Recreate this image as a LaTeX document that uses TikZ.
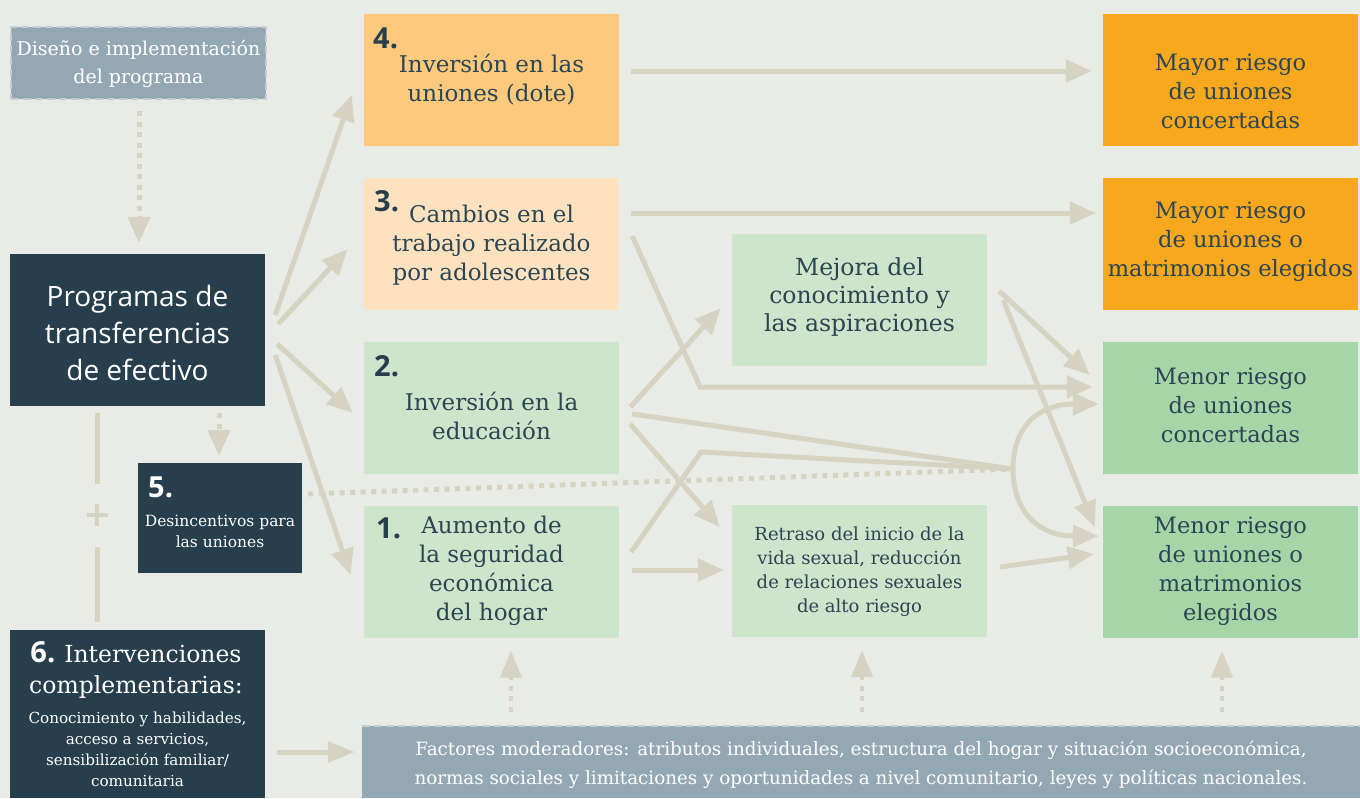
\documentclass[tikz,border=0pt]{standalone}
\usepackage{fontspec}
\setmainfont{DejaVu Serif}
\newfontfamily\sansf{Open Sans}
\usetikzlibrary{arrows.meta,calc}
\definecolor{bg}{HTML}{E9ECE6}
\definecolor{ac}{HTML}{D6D3C2}
\definecolor{dk}{HTML}{273E4C}
\definecolor{gb}{HTML}{94A8B3}
\definecolor{gbl}{HTML}{C3CDD2}
\definecolor{cfour}{HTML}{FDC97D}
\definecolor{cthree}{HTML}{FEE2BF}
\definecolor{lg}{HTML}{CCE5CB}
\definecolor{og}{HTML}{F8A81D}
\definecolor{mg}{HTML}{A6D5A7}
\definecolor{tc}{HTML}{2B4552}
\newcommand\fsz[2]{\fontsize{#1}{#2}\selectfont}
\tikzset{
  box/.style={inner sep=0pt, minimum width=255pt, minimum height=132pt},
  txt/.style={align=center, inner sep=0pt, text=tc},
  wtxt/.style={align=center, inner sep=0pt, text=white},
  num/.style={inner sep=0pt, text=dk, font=\sansf\bfseries\fsz{29}{29}},
  ln/.style={draw=ac, line width=5pt},
  arr/.style={ln, -{Triangle[length=26pt,width=22pt]}},
  dotl/.style={dash pattern=on 5pt off 5.5pt},
}
\begin{document}
\begin{tikzpicture}[x=1pt,y=-1pt]
\useasboundingbox[fill=bg] (0,0) rectangle (1360,798);

% boxes
\node[box, minimum height=72pt, fill=gb, draw=gbl, line width=2pt, dash pattern=on 8pt off 4pt] (dis) at (138.5,63) {};
\node[box, minimum height=152pt, fill=dk] (prog) at (137.5,330) {};
\node[box, minimum width=164pt, minimum height=110pt, fill=dk] (b5) at (220,518) {};
\node[box, minimum height=168pt, fill=dk] (b6) at (137.5,714) {};
\node[box, fill=cfour] (b4) at (491.5,80) {};
\node[box, fill=cthree] (b3) at (491.5,244) {};
\node[box, fill=lg] (b2) at (491.5,408) {};
\node[box, fill=lg] (b1) at (491.5,571.5) {};
\node[box, fill=lg] (mej) at (859.5,300) {};
\node[box, fill=lg] (ret) at (859.5,571) {};
\node[box, fill=og] (m1) at (1230.5,80) {};
\node[box, fill=og] (m2) at (1230.5,244) {};
\node[box, fill=mg] (n1) at (1230.5,408) {};
\node[box, fill=mg] (n2) at (1230.5,571.5) {};
\node[box, minimum width=998pt, minimum height=72pt, fill=gb] (fac) at (861,762) {};
\draw[gbl, line width=2pt, dash pattern=on 8pt off 4pt] (fac.north west) -- (fac.north east);

% texts
\node[wtxt, font=\fsz{19}{28}] (tdis) at (138.5,64) {Diseño e implementación\\del programa};
\node[wtxt, font=\sansf\fsz{28}{37}] (tprog) at (137.5,333) {Programas de\\transferencias\\de efectivo};
\node[num, text=white, anchor=north west] (l5) at (148,477) {5.};
\node[wtxt, font=\fsz{15.5}{21}] (t5) at (220,531) {Desincentivos para\\las uniones};
\node[wtxt, font=\fsz{23.5}{31}] (t6a) at (136,670) {{\sansf\bfseries\fsz{29}{29}6.}\hspace{9pt}Intervenciones\\complementarias:};
\node[wtxt, font=\fsz{15.2}{21}] (t6b) at (137.5,749) {Conocimiento y habilidades,\\acceso a servicios,\\sensibilización familiar/\\comunitaria};

\node[num, anchor=north west] (l4) at (373,28) {4.};
\node[txt, font=\fsz{23}{29}] (t4) at (491.5,80) {Inversión en las\\uniones (dote)};
\node[num, anchor=north west] (l3) at (374,190) {3.};
\node[txt, font=\fsz{23}{29}] (t3) at (491.5,245) {Cambios en el\\trabajo realizado\\por adolescentes};
\node[num, anchor=north west] (l2) at (374,355) {2.};
\node[txt, font=\fsz{23}{29}] (t2) at (491.5,416) {Inversión en la\\educación};
\node[num, anchor=north west] (l1) at (376,518) {1.};
\node[txt, font=\fsz{23}{29}] (t1) at (491.5,571) {Aumento de\\la seguridad\\económica\\del hogar};
\node[txt, font=\fsz{23.5}{28}] (tmej) at (859.5,297) {Mejora del\\conocimiento y\\las aspiraciones};
\node[txt, font=\fsz{18}{24}] (tret) at (859.5,572) {Retraso del inicio de la\\vida sexual, reducción\\de relaciones sexuales\\de alto riesgo};
\node[txt, font=\fsz{22.5}{29}] (tm1) at (1230.5,91) {Mayor riesgo\\de uniones\\concertadas};
\node[txt, font=\fsz{22.5}{29}] (tm2) at (1230.5,242) {Mayor riesgo\\de uniones o\\matrimonios elegidos};
\node[txt, font=\fsz{22.5}{29}] (tn1) at (1230.5,405) {Menor riesgo\\de uniones\\concertadas};
\node[txt, font=\fsz{22.5}{29}] (tn2) at (1230.5,571) {Menor riesgo\\de uniones o\\matrimonios\\elegidos};
\node[wtxt, font=\fsz{18.3}{29}] (tfac) at (861,765) {Factores moderadores: atributos individuales, estructura del hogar y situación socioeconómica,\\normas sociales y limitaciones y oportunidades a nivel comunitario, leyes y políticas nacionales.};

% helper coordinates
\coordinate (J) at (1013,469);
\coordinate (k1) at (700,387);
\coordinate (k2) at (701,452);

% connectors
\draw[arr, dotl] ($(dis.south)+(0.5,11)$) -- ($(prog.north)+(1.5,-11)$);
\draw[arr, dotl] ($(prog.south)+(81.5,7)$) -- ($(b5.north)+(-1,-7)$);
\draw[ln] ($(prog.south)+(-40.5,7)$) -- ++(0,71);
\draw[ln] ($(b6.north)+(-40.5,-8)$) -- ++(0,-75);
\coordinate (plus) at (97,515);
\draw[ln, line width=4pt] ($(plus)+(-10.5,0)$) -- ($(plus)+(10.5,0)$) ($(plus)+(0,-11)$) -- ($(plus)+(0,11)$);

\draw[arr] ($(prog.east)+(10,-15)$) -- ($(b4.west)+(-12,15)$);
\draw[arr] ($(prog.east)+(13,-6)$) -- ($(b3.west)+(-16,5)$);
\draw[arr] ($(prog.east)+(12,14)$) -- ($(b2.west)+(-11,5)$);
\draw[arr] ($(prog.east)+(10,25)$) -- ($(b1.west)+(-13,3.5)$);

\draw[arr] ($(b4.east)+(12,-9)$) -- ($(m1.west)+(-11,-9)$);
\draw[arr] ($(b3.east)+(12,-31)$) -- ($(m2.west)+(-7,-31)$);
\draw[arr] ($(b3.east)+(13,-8)$) -- (k1) -- ($(n1.west)+(-10,-21)$);
\draw[arr] ($(b2.east)+(11,-1)$) -- ($(mej.west)+(-11,8)$);
\draw[arr] ($(b2.east)+(11,16)$) -- ($(ret.west)+(-12,-44)$);
\draw[ln] ($(b2.east)+(13,6)$) -- (J);
\draw[ln] ($(b1.east)+(12,-19.5)$) -- (k2) -- (J);
\draw[arr] ($(b1.east)+(13,-1.5)$) -- ($(ret.west)+(-8,-1)$);
\draw[ln, dotl] ($(b5.east)+(6,-24)$) -- (J);

\draw[arr] (J) .. controls ($(J)+(0,-44)$) and ($(J)+(27,-65)$) .. ($(n1.west)+(-4,-4)$);
\draw[arr] (J) .. controls ($(J)+(0,44)$) and ($(J)+(27,67)$) .. ($(n2.west)+(-4,-35.5)$);
\draw[arr] ($(mej.east)+(12,-9)$) -- ($(n1.west)+(-13,-33)$);
\draw[arr] ($(mej.east)+(16,0)$) -- ($(n2.west)+(-8,-44.5)$);
\draw[arr] ($(ret.east)+(13,-4)$) -- ($(n2.west)+(-9,-17.5)$);

\draw[arr, -{Triangle[length=27pt,width=20pt]}] ($(b6.east)+(12,38)$) -- ($(fac.west)+(-7,-10)$);
\draw[arr, dotl, line width=4.5pt, -{Triangle[length=27pt,width=21pt]}] ($(fac.north)+(-350,-14)$) -- ($(b1.south)+(19.5,13)$);
\draw[arr, dotl, line width=4.5pt, -{Triangle[length=27pt,width=21pt]}] ($(fac.north)+(1,-14)$) -- ($(ret.south)+(2.5,13)$);
\draw[arr, dotl, line width=4.5pt, -{Triangle[length=27pt,width=21pt]}] ($(fac.north)+(361,-14)$) -- ($(n2.south)+(-8.5,13)$);
\end{tikzpicture}
\end{document}
